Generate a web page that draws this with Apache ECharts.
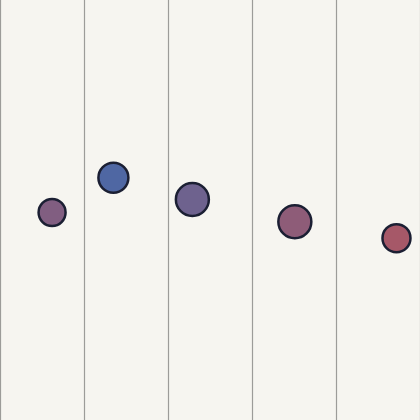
<!DOCTYPE html>
<html>
<head>
<meta charset="utf-8">
<script src="https://cdn.jsdelivr.net/npm/echarts@6/dist/echarts.min.js"></script>
<style>html,body{margin:0;padding:0;background:#f6f5f0}#c{width:420px;height:420px}</style>
</head>
<body>
<div id="c"></div>
<script>
var xValues = [0.62, 1.35, 2.29, 3.51, 4.72];
var yValues = [49.4, 57.7, 52.5, 47.2, 43.3];
var sizes = [27, 30, 33, 33, 28];

var data = xValues.map(function (x, i) { return [x, yValues[i], sizes[i]]; });

var chart = echarts.init(document.getElementById('c'));
chart.setOption({
  backgroundColor: '#f6f5f0',
  animation: false,
  grid: { left: 0, right: 0, top: 0, bottom: 0 },
  xAxis: {
    type: 'value', min: 0, max: 5, interval: 1,
    axisLine: { show: false }, axisTick: { show: false }, axisLabel: { show: false },
    splitLine: { show: true, lineStyle: { color: '#9c9c99', width: 1.2 } }
  },
  yAxis: {
    type: 'value', min: 0, max: 100,
    axisLine: { show: false }, axisTick: { show: false }, axisLabel: { show: false },
    splitLine: { show: false }
  },
  visualMap: {
    show: false, type: 'continuous', dimension: 1,
    min: Math.min.apply(null, yValues), max: Math.max.apply(null, yValues),
    inRange: { color: ['#a65868', '#4f67a3'] }
  },
  series: [{
    type: 'scatter',
    data: data,
    symbolSize: function (v) { return v[2]; },
    itemStyle: { borderColor: '#1b1f33', borderWidth: 2.5, opacity: 1 }
  }]
});
</script>
</body>
</html>
